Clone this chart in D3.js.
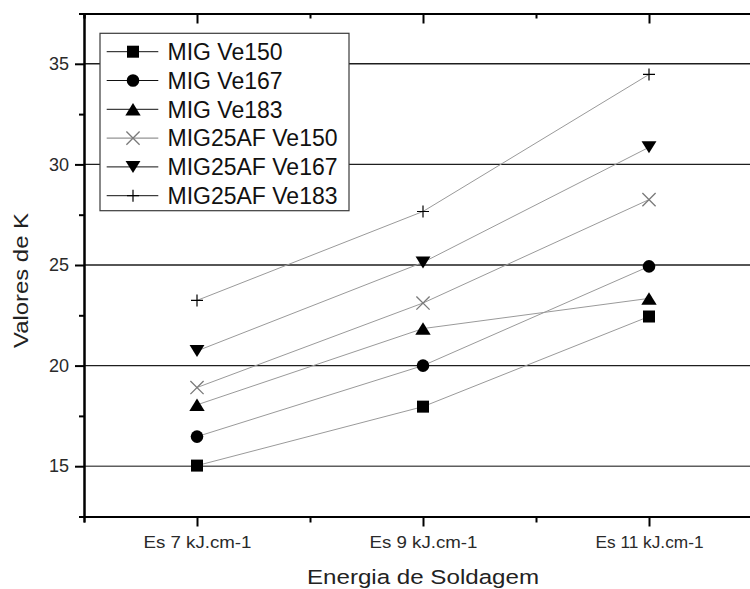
<!DOCTYPE html>
<html>
<head>
<meta charset="utf-8">
<script src="https://cdn.jsdelivr.net/npm/d3@7"></script>
<style>
  html, body { margin: 0; padding: 0; background: #fff; }
  svg { display: block; font-family: "Liberation Sans", Arial, sans-serif; }
</style>
</head>
<body>
<svg id="chart" width="750" height="589"></svg>
<script>
// Categories on the x axis (welding energy levels)
const categories = ["Es 7 kJ.cm-1", "Es 9 kJ.cm-1", "Es 11 kJ.cm-1"];

// K values per process / wire speed
const migVe150     = [15.03, 17.96, 22.44];
const migVe167     = [16.47, 20.0, 24.93];
const migVe183     = [18.05, 21.84, 23.34];
const mig25afVe150 = [18.91, 23.11, 28.25];
const mig25afVe167 = [20.73, 25.13, 30.85];
const mig25afVe183 = [23.24, 27.66, 34.47];

const seriesNames = ["MIG Ve150", "MIG Ve167", "MIG Ve183",
                     "MIG25AF Ve150", "MIG25AF Ve167", "MIG25AF Ve183"];
const markerKinds = ["square", "circle", "triangleUp", "cross", "triangleDown", "plus"];

const yMajorTicks = [15, 20, 25, 30, 35];
const yMinorTicks = [12.5, 17.5, 22.5, 27.5, 32.5, 37.5];
const xMinorTicks = [0.5, 1.5, 2.5, 3.5];

const yTitle = "Valores de K";
const xTitle = "Energia de Soldagem";

const seriesValues = [migVe150, migVe167, migVe183, mig25afVe150, mig25afVe167, mig25afVe183];
const series = seriesNames.map((name, i) => ({ name, kind: markerKinds[i], values: seriesValues[i] }));

const W = 750, H = 589;
const svg = d3.select("#chart");

const x = d3.scaleLinear().domain([0.5, 3.5]).range([84, 762]);
const y = d3.scaleLinear().domain([12.5, 37.5]).range([516.5, 13.5]);

// marker path generator, centred on (0,0)
function markerPath(kind, s) {
  const h = s / 2;
  switch (kind) {
    case "square": return `M${-h},${-h}H${h}V${h}H${-h}Z`;
    case "triangleUp": { const w = s * 0.64, t = s * 0.52; return `M0,${-t}L${w},${t}L${-w},${t}Z`; }
    case "triangleDown": { const w = s * 0.62, t = s * 0.5; return `M0,${t}L${w},${-t}L${-w},${-t}Z`; }
    case "cross": { const c = s * 0.55; return `M${-c},${-c}L${c},${c}M${-c},${c}L${c},${-c}`; }
    case "plus": { const c = s * 0.5; return `M${-c},0H${c}M0,${-c}V${c}`; }
  }
  return "";
}
function drawMarker(g, kind, cx, cy) {
  if (kind === "circle") {
    g.append("circle").attr("cx", cx).attr("cy", cy).attr("r", 6.3).attr("fill", "#000");
    return;
  }
  const p = g.append("path")
    .attr("transform", `translate(${cx},${cy})`)
    .attr("d", markerPath(kind, 12));
  if (kind === "cross") p.attr("fill", "none").attr("stroke", "#7a7a7a").attr("stroke-width", 1.3);
  else if (kind === "plus") p.attr("fill", "none").attr("stroke", "#000").attr("stroke-width", 1.2);
  else p.attr("fill", "#000");
}

// horizontal grid lines
svg.append("g").selectAll("line")
  .data(yMajorTicks).join("line")
  .attr("x1", x(0.5)).attr("x2", W)
  .attr("y1", d => y(d)).attr("y2", d => y(d))
  .attr("stroke", d => d === 15 ? "#5e5e5e" : "#1e1e1e")
  .attr("stroke-width", 1.4);

// connecting lines
const line = d3.line().x((d, i) => x(i + 1)).y(d => y(d));
svg.append("g").selectAll("path")
  .data(series).join("path")
  .attr("d", d => line(d.values))
  .attr("fill", "none")
  .attr("stroke", "#9a9a9a")
  .attr("stroke-width", 1);

// markers
const mg = svg.append("g");
series.forEach(s => s.values.forEach((v, i) => drawMarker(mg, s.kind, x(i + 1), y(v))));

// axes
const axisStyle = g => {
  g.selectAll(".domain").attr("stroke", "#000").attr("stroke-width", 2);
  g.selectAll(".tick line").attr("stroke", "#000").attr("stroke-width", 2);
};

svg.append("g").attr("transform", `translate(${x(0.5)},0)`)
  .call(d3.axisLeft(y).tickValues(yMinorTicks).tickSize(5).tickFormat(""))
  .call(axisStyle);
const yAx = svg.append("g").attr("transform", `translate(${x(0.5)},0)`)
  .call(d3.axisLeft(y).tickValues(yMajorTicks).tickSize(9).tickSizeOuter(0).tickPadding(6))
  .call(axisStyle);
yAx.selectAll("text").attr("font-size", 18).attr("fill", "#2a2a2a")
  .attr("font-family", "'Liberation Sans', Arial, sans-serif");

svg.append("g").attr("transform", `translate(0,${y(12.5)})`)
  .call(d3.axisBottom(x).tickValues(xMinorTicks).tickSize(6).tickFormat(""))
  .call(axisStyle);
const xAx = svg.append("g").attr("transform", `translate(0,${y(12.5)})`)
  .call(d3.axisBottom(x).tickValues([1, 2, 3]).tickSize(10).tickSizeOuter(0)
        .tickFormat(d => categories[d - 1]).tickPadding(9))
  .call(axisStyle);
xAx.selectAll("text").attr("font-size", 17).attr("fill", "#2a2a2a")
  .attr("font-family", "'Liberation Sans', Arial, sans-serif")
  .attr("textLength", 108).attr("lengthAdjust", "spacingAndGlyphs");

// top frame with inward ticks
svg.append("g").attr("transform", `translate(0,${y(37.5)})`)
  .call(d3.axisTop(x).tickValues(xMinorTicks).tickSize(-5).tickFormat(""))
  .call(axisStyle);
svg.append("g").attr("transform", `translate(0,${y(37.5)})`)
  .call(d3.axisTop(x).tickValues([1, 2, 3]).tickSize(-10).tickSizeOuter(0).tickFormat(""))
  .call(axisStyle);

// axis titles
svg.append("text")
  .attr("transform", `translate(28,${(213 + 348) / 2}) rotate(-90)`)
  .attr("text-anchor", "middle")
  .attr("font-size", 21).attr("fill", "#222")
  .attr("textLength", 135).attr("lengthAdjust", "spacingAndGlyphs")
  .text(yTitle);
svg.append("text")
  .attr("x", x(2)).attr("y", 584)
  .attr("text-anchor", "middle")
  .attr("font-size", 20.5).attr("fill", "#222")
  .attr("textLength", 232).attr("lengthAdjust", "spacingAndGlyphs")
  .text(xTitle);

// legend
const lg = svg.append("g");
lg.append("rect")
  .attr("x", 100).attr("y", 33.3).attr("width", 249).attr("height", 177.4)
  .attr("fill", "#fff").attr("stroke", "#3a3a3a").attr("stroke-width", 1.2);
series.forEach((s, i) => {
  const cy = 51.7 + i * 28.8;
  lg.append("line").attr("x1", 106.7).attr("x2", 158.3).attr("y1", cy).attr("y2", cy)
    .attr("stroke", s.kind === "cross" ? "#7a7a7a" : "#111").attr("stroke-width", 1);
  drawMarker(lg, s.kind, 133, cy);
  lg.append("text").attr("x", 167.5).attr("y", cy + 8.2)
    .attr("font-size", 23).attr("fill", "#111")
    .text(s.name);
});
</script>
</body>
</html>
